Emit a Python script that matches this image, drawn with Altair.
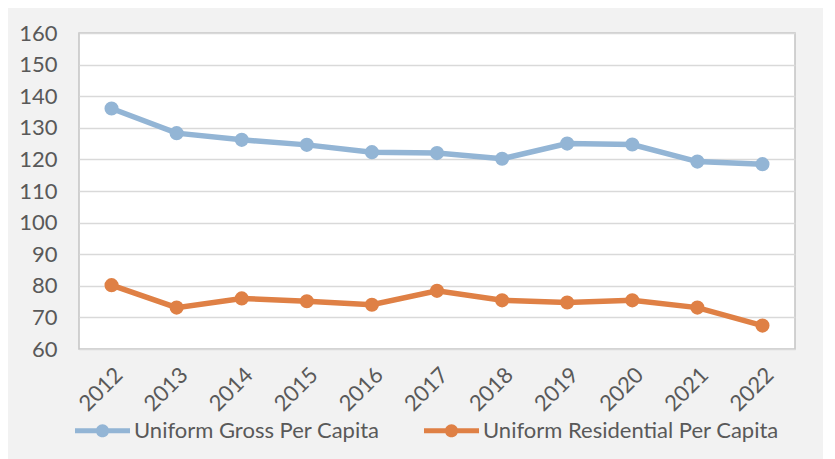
import altair as alt
import pandas as pd

years = ["2012", "2013", "2014", "2015", "2016", "2017", "2018", "2019", "2020", "2021", "2022"]
gross = [136.1, 128.3, 126.2, 124.6, 122.3, 122.0, 120.2, 125.0, 124.7, 119.3, 118.5]
residential = [80.2, 73.1, 76.0, 75.1, 74.0, 78.4, 75.4, 74.7, 75.4, 73.1, 67.4]
series_names = ["Uniform Gross Per Capita", "Uniform Residential Per Capita"]
colors = ["#93b5d5", "#df8045"]

rows = []
for name, vals in zip(series_names, [gross, residential]):
    for y, v in zip(years, vals):
        rows.append({"Year": y, "Value": v, "Series": name})
df = pd.DataFrame(rows)

font = "Lato"
text_color = "#595959"

legend_path = ("M-1,-0.09 L1,-0.09 L1,0.09 L-1,0.09 Z "
               "M0.24,0 A0.24,0.24 0 1,1 -0.24,0 A0.24,0.24 0 1,1 0.24,0 Z")

x_enc = alt.X("Year:N", sort=years, title=None,
              scale=alt.Scale(type="point", padding=0.5),
              axis=alt.Axis(labelAngle=-45, labelFontSize=22, labelColor=text_color,
                            labelFont=font, ticks=False, domain=False, grid=False,
                            labelPadding=15))
y_enc = alt.Y("Value:Q", title=None,
              scale=alt.Scale(domain=[60, 160], nice=False, zero=False),
              axis=alt.Axis(values=list(range(60, 161, 10)), labelFontSize=22,
                            labelColor=text_color, labelFont=font, ticks=False,
                            domain=False, gridColor="#d9d9d9", gridWidth=1.3,
                            labelPadding=22))
color_scale = alt.Scale(domain=series_names, range=colors)
legend = alt.Legend(title=None, orient="none", direction="horizontal",
                    legendX=-4, legendY=370,
                    symbolType=legend_path, symbolSize=3025,
                    symbolStrokeWidth=0, symbolOpacity=1,
                    labelFontSize=22, labelFont=font,
                    labelColor=text_color, labelOffset=4,
                    columnPadding=44, labelLimit=400)

lines = alt.Chart(df).mark_line(strokeWidth=5.5).encode(
    x=x_enc, y=y_enc,
    color=alt.Color("Series:N", scale=color_scale, legend=legend),
)
points = alt.Chart(df).mark_point(filled=True, size=200, opacity=1).encode(
    x=x_enc, y=y_enc,
    color=alt.Color("Series:N", scale=color_scale, legend=legend),
)

chart = alt.layer(lines, points).properties(
    width=716, height=316,
    background="#f2f2f2",
    padding={"left": 71, "top": 25, "right": 28, "bottom": 110},
    autosize=alt.AutoSizeParams(type="none"),
).configure_view(
    fill="white", stroke="#c4c4c4", strokeWidth=1.5
)

chart.save("out.html", embed_options={"renderer": "svg", "actions": False})
